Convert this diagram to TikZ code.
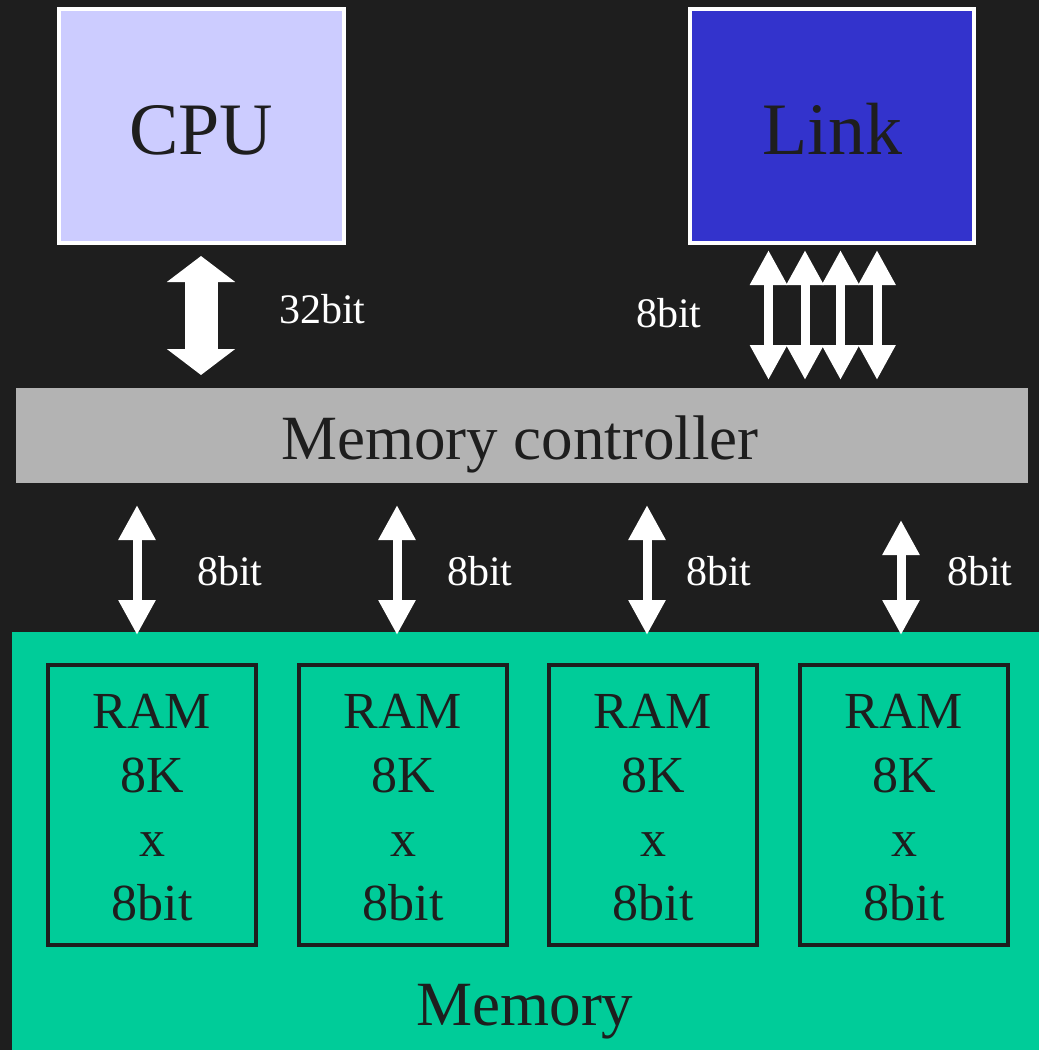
\documentclass[tikz,border=0pt]{standalone}
\usepackage{fontspec}
\setmainfont{Liberation Serif}
\usetikzlibrary{arrows.meta}

\definecolor{bgdark}{HTML}{1E1E1E}
\definecolor{cpufill}{HTML}{CCCCFF}
\definecolor{linkfill}{HTML}{3333CC}
\definecolor{ctrlfill}{HTML}{B3B3B3}
\definecolor{memfill}{HTML}{00CC99}

\newcommand{\chiptext}{\rule{0pt}{40pt}RAM\\8K\\x\\8bit}

\tikzset{
  unitbox/.style={rectangle, draw=white, line width=4pt, inner sep=0pt,
    minimum width=285pt, minimum height=234pt},
  flatbox/.style={rectangle, inner sep=0pt, outer sep=0pt},
  rambox/.style={rectangle, draw=bgdark, line width=4pt, inner sep=0pt,
    minimum width=208pt, minimum height=280pt, align=center, text=bgdark,
    font=\fontsize{52}{64}\selectfont},
  title/.style={text=bgdark, anchor=base, inner sep=0pt},
  buslabel/.style={text=white, anchor=base west, inner sep=0pt,
    font=\fontsize{42}{50}\selectfont},
  widebus/.style={draw=white, line width=33pt,
    {Triangle[width=67pt,length=26pt]}-{Triangle[width=67pt,length=26pt]}},
  narrowbus/.style={draw=white, line width=9pt,
    {Triangle[width=35pt,length=35pt]}-{Triangle[width=35pt,length=35pt]}},
}

\begin{document}
\begin{tikzpicture}[x=1pt, y=-1pt]
  % canvas
  \fill[bgdark] (0,0) rectangle (1039,1050);
  \useasboundingbox (0,0) rectangle (1039,1050);

  % top units
  \node[unitbox, fill=cpufill] (cpu) at (201.5,126) {};
  \node[unitbox, fill=linkfill, minimum width=284pt] (link) at (832,126) {};
  \node[title, font=\fontsize{74}{80}\selectfont] (cputext) at (201,154) {CPU};
  \node[title, font=\fontsize{74}{80}\selectfont] (linktext) at (832.5,154) {Link};

  % memory controller
  \node[flatbox, fill=ctrlfill, minimum width=1012pt, minimum height=95pt] (mc) at (522,435.5) {};
  \node[title, font=\fontsize{63}{70}\selectfont] (mctext) at (520,459) {Memory controller};

  % memory block with its four RAM chips
  \node[flatbox, fill=memfill, minimum width=1027pt, minimum height=418pt] (mem) at (525.5,841) {};
  \node[title, font=\fontsize{63}{70}\selectfont] (memtext) at (525,1025) {Memory};
  \node[rambox] (ram1) at (152,805) {\chiptext};
  \node[rambox] (ram2) at (403,805) {\chiptext};
  \node[rambox] (ram3) at (653,805) {\chiptext};
  \node[rambox] (ram4) at (904,805) {\chiptext};

  % bus positions
  \coordinate (xc) at (201,0);
  \coordinate (xl1) at (768.5,0);
  \coordinate (xl2) at (805,0);
  \coordinate (xl3) at (840.5,0);
  \coordinate (xl4) at (877,0);
  \coordinate (xm1) at (137,0);
  \coordinate (xm2) at (397,0);
  \coordinate (xm3) at (647,0);
  \coordinate (xm4) at (901,0);

  % CPU <-> controller, 32 bit
  \draw[widebus, shorten <=11pt, shorten >=13pt] (cpu.south -| xc) -- (mc.north -| xc);
  \node[buslabel] (l32) at (279,323) {32bit};

  % Link <-> controller, 4 x 8 bit
  \foreach \k in {1,2,3,4}
    \draw[narrowbus, shorten <=5pt, shorten >=8pt] (link.south -| xl\k) -- (mc.north -| xl\k);
  \node[buslabel] (llink) at (636,327) {8bit};

  % controller <-> RAM chips, 8 bit each
  \draw[narrowbus, shorten <=22pt, shorten >=-3pt] (mc.south -| xm1) -- (mem.north -| xm1);
  \draw[narrowbus, shorten <=22pt, shorten >=-3pt] (mc.south -| xm2) -- (mem.north -| xm2);
  \draw[narrowbus, shorten <=22pt, shorten >=-3pt] (mc.south -| xm3) -- (mem.north -| xm3);
  \draw[narrowbus, shorten <=37pt, shorten >=-3pt] (mc.south -| xm4) -- (mem.north -| xm4);
  \node[buslabel] (lm1) at (197,585) {8bit};
  \node[buslabel] (lm2) at (447,585) {8bit};
  \node[buslabel] (lm3) at (686,585) {8bit};
  \node[buslabel] (lm4) at (947,585) {8bit};
\end{tikzpicture}
\end{document}
